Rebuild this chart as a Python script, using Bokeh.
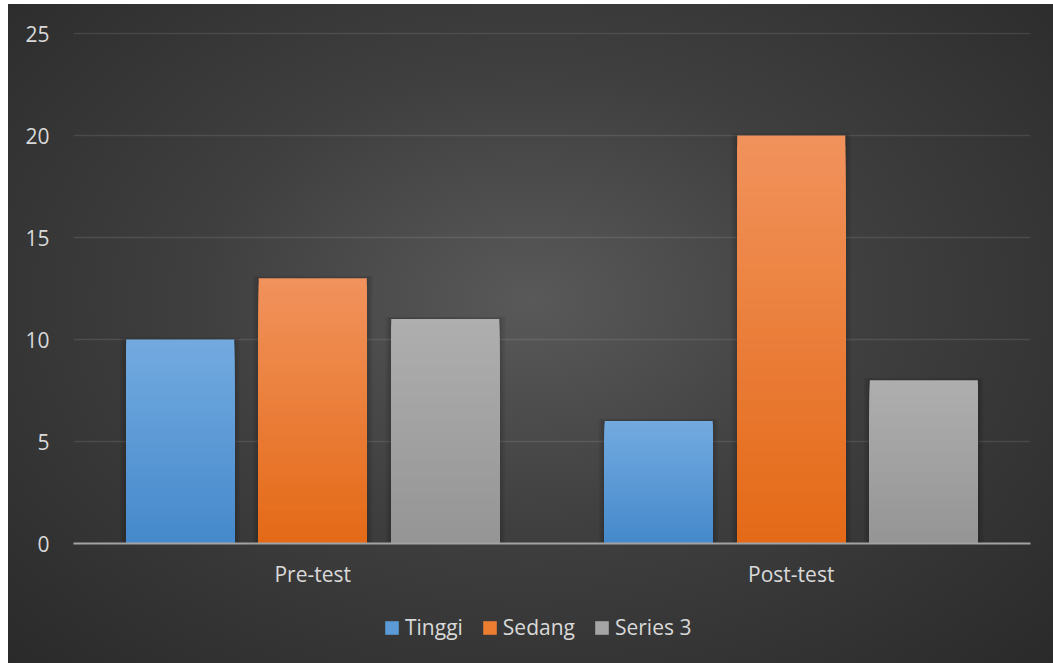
import numpy as np
from bokeh.plotting import figure
from bokeh.layouts import column
from bokeh.models import FactorRange, ColumnDataSource, Legend, LegendItem, FixedTicker, Range1d
from bokeh.transform import dodge
from bokeh.embed import file_html
from bokeh.resources import INLINE

# ---- data ----
categories = ["Pre-test", "Post-test"]
series_names = ["Tinggi", "Sedang", "Series 3"]
tinggi = [10, 6]
sedang = [13, 20]
series3 = [11, 8]
y_ticks = [0, 5, 10, 15, 20, 25]

# ---- style ----
top_colors = ["#72aadf", "#f1925c", "#aeaeae"]
bottom_colors = ["#4689cc", "#e46a17", "#959595"]
legend_colors = ["#5b9ad6", "#ec7d31", "#a5a5a5"]
offsets = [-0.277, 0.0, 0.277]
bar_width = 0.226
N_SLICES = 40
FONT = "Open Sans"
TXT = "#d9d9d9"
FS = "21px"


def hex2rgb(h):
    h = h.lstrip("#")
    return [int(h[i:i + 2], 16) for i in (0, 2, 4)]


def mix(c0, c1, t):
    a, b = hex2rgb(c0), hex2rgb(c1)
    return "#%02x%02x%02x" % tuple(int(round(a[k] + (b[k] - a[k]) * t)) for k in range(3))


p = figure(
    frame_width=957, frame_height=511,
    x_range=FactorRange(factors=categories, range_padding=0),
    y_range=(0, 25.05),
    output_backend="svg", toolbar_location=None,
    min_border_left=65, min_border_right=23, min_border_top=28, min_border_bottom=66,
)
p.background_fill_color = None
p.border_fill_color = None
p.outline_line_color = None

# grid
p.xgrid.grid_line_color = None
p.ygrid.ticker = FixedTicker(ticks=y_ticks)
p.ygrid.grid_line_color = "white"
p.ygrid.grid_line_alpha = 0.1
p.ygrid.grid_line_width = 1.5

# y axis
p.yaxis.ticker = FixedTicker(ticks=y_ticks)
p.yaxis.axis_line_color = None
p.yaxis.major_tick_line_color = None
p.yaxis.minor_tick_line_color = None
p.yaxis.major_tick_out = 0
p.yaxis.major_label_standoff = 24
p.yaxis.major_label_text_font = FONT
p.yaxis.major_label_text_font_size = FS
p.yaxis.major_label_text_color = TXT

# x axis
p.xaxis.axis_line_color = "#a3a3a3"
p.xaxis.axis_line_width = 2
p.xaxis.major_tick_line_color = None
p.xaxis.minor_tick_line_color = None
p.xaxis.major_tick_out = 0
p.xaxis.major_label_standoff = 16
p.xaxis.major_label_text_font = FONT
p.xaxis.major_label_text_font_size = FS
p.xaxis.major_label_text_color = TXT

values = [tinggi, sedang, series3]
for s, name in enumerate(series_names):
    vals = values[s]
    # soft shadow
    for k in range(1, 4):
        sh = ColumnDataSource(dict(cat=categories, top=[v + 0.04 * k for v in vals]))
        p.vbar(x=dodge("cat", offsets[s], range=p.x_range), top="top", bottom=0,
               width=bar_width + 0.008 * k, source=sh, fill_color="black", fill_alpha=0.06,
               line_color=None)
    # gradient: overlapping rects from tallest (top colour) to shortest (bottom colour)
    cats, tops, cols = [], [], []
    for c, v in zip(categories, vals):
        for i in range(N_SLICES - 1, -1, -1):
            cats.append(c)
            tops.append(v * (i + 1) / N_SLICES)
            cols.append(mix(bottom_colors[s], top_colors[s], i / (N_SLICES - 1)))
    src = ColumnDataSource(dict(cat=cats, top=tops, color=cols))
    p.vbar(x=dodge("cat", offsets[s], range=p.x_range), top="top", bottom=0,
           width=bar_width, source=src, fill_color="color", line_color=None)

# ---- legend strip ----
lp = figure(width=1045, height=54, x_range=Range1d(0, 1), y_range=Range1d(0, 1),
            output_backend="svg", toolbar_location=None, min_border=0)
lp.axis.visible = False
lp.grid.visible = False
lp.background_fill_color = None
lp.border_fill_color = None
lp.outline_line_color = None
items = []
for s, name in enumerate(series_names):
    # zero-height placeholder renderer that only supplies the legend swatch
    dummy = ColumnDataSource(dict(x=[0.5], top=[0.0]))
    r = lp.vbar(x="x", top="top", bottom=0, width=0, source=dummy,
                fill_color=legend_colors[s], line_color=None)
    items.append(LegendItem(label=name, renderers=[r], index=0))
legend = Legend(items=items, orientation="horizontal", location=(310, 22))
legend.background_fill_alpha = 0
legend.border_line_color = None
legend.label_text_font = FONT
legend.label_text_font_size = FS
legend.label_text_color = TXT
legend.glyph_width = 17
legend.glyph_height = 17
legend.label_standoff = 5
legend.spacing = 18
legend.padding = 4
legend.margin = 0
lp.add_layout(legend, "center")

layout = column(p, lp, spacing=0)
layout.margin = (4, 0, 0, 8)
layout.styles = {"background-image": "radial-gradient(ellipse at 50% 45%, #595959 0%, #3f3f3f 45%, #2a2a2a 100%)"}

open("out.html", "w").write(file_html(layout, INLINE))
